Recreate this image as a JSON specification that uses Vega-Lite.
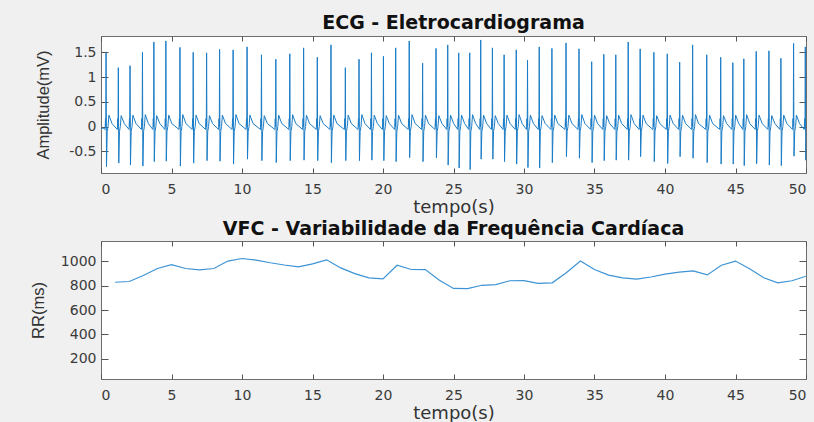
{
"$schema": "https://vega.github.io/schema/vega-lite/v6.json",
"autosize": {"type": "none"},
"padding": {"left": 101, "top": 36, "right": 8, "bottom": 386},
"background": "#F0F0F0",
"bounds": "flush",
"spacing": 68,
"datasets": {
"ecg": [
{"t":0,"v":-0.05},{"t":0.15,"v":-0.03},
{"t":0.29,"v":-0.06},{"t":0.32,"v":0.16},{"t":0.34,"v":0},{"t":0.36,"v":1.49},{"t":0.39,"v":-0.81},{"t":0.44,"v":-0.1},{"t":0.5,"v":0},{"t":0.56,"v":0.23},{"t":0.78,"v":0.06},
{"t":1.16,"v":-0.06},{"t":1.19,"v":0.16},{"t":1.21,"v":0},{"t":1.23,"v":1.19},{"t":1.26,"v":-0.74},{"t":1.31,"v":-0.1},{"t":1.37,"v":0},{"t":1.43,"v":0.22},{"t":1.65,"v":0.06},
{"t":1.99,"v":-0.06},{"t":2.02,"v":0.16},{"t":2.04,"v":0},{"t":2.06,"v":1.23},{"t":2.09,"v":-0.78},{"t":2.14,"v":-0.1},{"t":2.2,"v":0},{"t":2.26,"v":0.23},{"t":2.48,"v":0.06},
{"t":2.87,"v":-0.06},{"t":2.9,"v":0.16},{"t":2.92,"v":0},{"t":2.94,"v":1.5},{"t":2.97,"v":-0.8},{"t":3.02,"v":-0.1},{"t":3.08,"v":0},{"t":3.14,"v":0.24},{"t":3.36,"v":0.06},
{"t":3.68,"v":-0.06},{"t":3.71,"v":0.16},{"t":3.73,"v":0},{"t":3.75,"v":1.71},{"t":3.78,"v":-0.71},{"t":3.83,"v":-0.1},{"t":3.89,"v":0},{"t":3.95,"v":0.22},{"t":4.17,"v":0.06},
{"t":4.53,"v":-0.06},{"t":4.56,"v":0.16},{"t":4.58,"v":0},{"t":4.6,"v":1.73},{"t":4.63,"v":-0.7},{"t":4.68,"v":-0.1},{"t":4.74,"v":0},{"t":4.8,"v":0.23},{"t":5.02,"v":0.06},
{"t":5.53,"v":-0.06},{"t":5.56,"v":0.16},{"t":5.58,"v":0},{"t":5.6,"v":1.6},{"t":5.63,"v":-0.8},{"t":5.68,"v":-0.1},{"t":5.74,"v":0},{"t":5.8,"v":0.24},{"t":6.02,"v":0.06},
{"t":6.47,"v":-0.06},{"t":6.5,"v":0.16},{"t":6.52,"v":0},{"t":6.54,"v":1.5},{"t":6.57,"v":-0.74},{"t":6.62,"v":-0.1},{"t":6.68,"v":0},{"t":6.74,"v":0.23},{"t":6.96,"v":0.06},
{"t":7.42,"v":-0.06},{"t":7.45,"v":0.16},{"t":7.47,"v":0},{"t":7.49,"v":1.49},{"t":7.52,"v":-0.69},{"t":7.57,"v":-0.1},{"t":7.63,"v":0},{"t":7.69,"v":0.22},{"t":7.91,"v":0.06},
{"t":8.34,"v":-0.06},{"t":8.37,"v":0.16},{"t":8.39,"v":0},{"t":8.41,"v":1.56},{"t":8.44,"v":-0.7},{"t":8.49,"v":-0.1},{"t":8.55,"v":0},{"t":8.61,"v":0.23},{"t":8.83,"v":0.06},
{"t":9.3,"v":-0.06},{"t":9.33,"v":0.16},{"t":9.35,"v":0},{"t":9.37,"v":1.55},{"t":9.4,"v":-0.76},{"t":9.45,"v":-0.1},{"t":9.51,"v":0},{"t":9.57,"v":0.24},{"t":9.79,"v":0.06},
{"t":10.29,"v":-0.06},{"t":10.32,"v":0.16},{"t":10.34,"v":0},{"t":10.36,"v":1.61},{"t":10.39,"v":-0.66},{"t":10.44,"v":-0.1},{"t":10.5,"v":0},{"t":10.56,"v":0.23},{"t":10.78,"v":0.06},
{"t":11.31,"v":-0.06},{"t":11.34,"v":0.16},{"t":11.36,"v":0},{"t":11.38,"v":1.45},{"t":11.41,"v":-0.69},{"t":11.46,"v":-0.1},{"t":11.52,"v":0},{"t":11.58,"v":0.22},{"t":11.8,"v":0.06},
{"t":12.33,"v":-0.06},{"t":12.36,"v":0.16},{"t":12.38,"v":0},{"t":12.4,"v":1.36},{"t":12.43,"v":-0.73},{"t":12.48,"v":-0.1},{"t":12.54,"v":0},{"t":12.6,"v":0.23},{"t":12.82,"v":0.06},
{"t":13.32,"v":-0.06},{"t":13.35,"v":0.16},{"t":13.37,"v":0},{"t":13.39,"v":1.47},{"t":13.42,"v":-0.69},{"t":13.47,"v":-0.1},{"t":13.53,"v":0},{"t":13.59,"v":0.24},{"t":13.81,"v":0.06},
{"t":14.3,"v":-0.06},{"t":14.33,"v":0.16},{"t":14.35,"v":0},{"t":14.37,"v":1.59},{"t":14.4,"v":-0.68},{"t":14.45,"v":-0.1},{"t":14.51,"v":0},{"t":14.57,"v":0.23},{"t":14.79,"v":0.06},
{"t":15.27,"v":-0.06},{"t":15.3,"v":0.16},{"t":15.32,"v":0},{"t":15.34,"v":1.4},{"t":15.37,"v":-0.69},{"t":15.42,"v":-0.1},{"t":15.48,"v":0},{"t":15.54,"v":0.22},{"t":15.76,"v":0.06},
{"t":16.24,"v":-0.06},{"t":16.27,"v":0.16},{"t":16.29,"v":0},{"t":16.31,"v":1.65},{"t":16.34,"v":-0.73},{"t":16.39,"v":-0.1},{"t":16.45,"v":0},{"t":16.51,"v":0.23},{"t":16.73,"v":0.06},
{"t":17.26,"v":-0.06},{"t":17.29,"v":0.16},{"t":17.31,"v":0},{"t":17.33,"v":1.19},{"t":17.36,"v":-0.69},{"t":17.41,"v":-0.1},{"t":17.47,"v":0},{"t":17.53,"v":0.23},{"t":17.75,"v":0.06},
{"t":18.23,"v":-0.06},{"t":18.26,"v":0.16},{"t":18.28,"v":0},{"t":18.3,"v":1.36},{"t":18.33,"v":-0.69},{"t":18.38,"v":-0.1},{"t":18.44,"v":0},{"t":18.5,"v":0.24},{"t":18.72,"v":0.06},
{"t":19.11,"v":-0.06},{"t":19.14,"v":0.16},{"t":19.16,"v":0},{"t":19.18,"v":1.49},{"t":19.21,"v":-0.68},{"t":19.26,"v":-0.1},{"t":19.32,"v":0},{"t":19.38,"v":0.23},{"t":19.6,"v":0.06},
{"t":19.96,"v":-0.06},{"t":19.99,"v":0.16},{"t":20.01,"v":0},{"t":20.03,"v":1.42},{"t":20.06,"v":-0.69},{"t":20.11,"v":-0.1},{"t":20.17,"v":0},{"t":20.23,"v":0.22},{"t":20.45,"v":0.06},
{"t":20.83,"v":-0.06},{"t":20.86,"v":0.16},{"t":20.88,"v":0},{"t":20.9,"v":1.59},{"t":20.93,"v":-0.71},{"t":20.98,"v":-0.1},{"t":21.04,"v":0},{"t":21.1,"v":0.23},{"t":21.32,"v":0.06},
{"t":21.79,"v":-0.06},{"t":21.82,"v":0.16},{"t":21.84,"v":0},{"t":21.86,"v":1.73},{"t":21.89,"v":-0.63},{"t":21.94,"v":-0.1},{"t":22,"v":0},{"t":22.06,"v":0.24},{"t":22.28,"v":0.06},
{"t":22.74,"v":-0.06},{"t":22.77,"v":0.16},{"t":22.79,"v":0},{"t":22.81,"v":1.28},{"t":22.84,"v":-0.71},{"t":22.89,"v":-0.1},{"t":22.95,"v":0},{"t":23.01,"v":0.23},{"t":23.23,"v":0.06},
{"t":23.69,"v":-0.06},{"t":23.72,"v":0.16},{"t":23.74,"v":0},{"t":23.76,"v":1.58},{"t":23.79,"v":-0.63},{"t":23.84,"v":-0.1},{"t":23.9,"v":0},{"t":23.96,"v":0.22},{"t":24.18,"v":0.06},
{"t":24.52,"v":-0.06},{"t":24.55,"v":0.16},{"t":24.57,"v":0},{"t":24.59,"v":1.65},{"t":24.62,"v":-0.78},{"t":24.67,"v":-0.1},{"t":24.73,"v":0},{"t":24.79,"v":0.23},{"t":25.01,"v":0.06},
{"t":25.3,"v":-0.06},{"t":25.33,"v":0.16},{"t":25.35,"v":0},{"t":25.37,"v":1.49},{"t":25.4,"v":-0.84},{"t":25.45,"v":-0.1},{"t":25.51,"v":0},{"t":25.57,"v":0.23},{"t":25.79,"v":0.06},
{"t":26.08,"v":-0.06},{"t":26.11,"v":0.16},{"t":26.13,"v":0},{"t":26.15,"v":1.49},{"t":26.18,"v":-0.87},{"t":26.23,"v":-0.1},{"t":26.29,"v":0},{"t":26.35,"v":0.24},{"t":26.57,"v":0.06},
{"t":26.86,"v":-0.06},{"t":26.89,"v":0.16},{"t":26.91,"v":0},{"t":26.93,"v":1.75},{"t":26.96,"v":-0.66},{"t":27.01,"v":-0.1},{"t":27.07,"v":0},{"t":27.13,"v":0.23},{"t":27.35,"v":0.06},
{"t":27.69,"v":-0.06},{"t":27.72,"v":0.16},{"t":27.74,"v":0},{"t":27.76,"v":1.59},{"t":27.79,"v":-0.66},{"t":27.84,"v":-0.1},{"t":27.9,"v":0},{"t":27.96,"v":0.22},{"t":28.18,"v":0.06},
{"t":28.52,"v":-0.06},{"t":28.55,"v":0.16},{"t":28.57,"v":0},{"t":28.59,"v":1.45},{"t":28.62,"v":-0.71},{"t":28.67,"v":-0.1},{"t":28.73,"v":0},{"t":28.79,"v":0.23},{"t":29.01,"v":0.06},
{"t":29.38,"v":-0.06},{"t":29.41,"v":0.16},{"t":29.43,"v":0},{"t":29.45,"v":1.55},{"t":29.48,"v":-0.76},{"t":29.53,"v":-0.1},{"t":29.59,"v":0},{"t":29.65,"v":0.24},{"t":29.87,"v":0.06},
{"t":30.18,"v":-0.06},{"t":30.21,"v":0.16},{"t":30.23,"v":0},{"t":30.25,"v":1.34},{"t":30.28,"v":-0.83},{"t":30.33,"v":-0.1},{"t":30.39,"v":0},{"t":30.45,"v":0.23},{"t":30.67,"v":0.06},
{"t":31.01,"v":-0.06},{"t":31.04,"v":0.16},{"t":31.06,"v":0},{"t":31.08,"v":1.61},{"t":31.11,"v":-0.84},{"t":31.16,"v":-0.1},{"t":31.22,"v":0},{"t":31.28,"v":0.22},{"t":31.5,"v":0.06},
{"t":31.91,"v":-0.06},{"t":31.94,"v":0.16},{"t":31.96,"v":0},{"t":31.98,"v":1.58},{"t":32.01,"v":-0.73},{"t":32.06,"v":-0.1},{"t":32.12,"v":0},{"t":32.18,"v":0.23},{"t":32.4,"v":0.06},
{"t":32.91,"v":-0.06},{"t":32.94,"v":0.16},{"t":32.96,"v":0},{"t":32.98,"v":1.69},{"t":33.01,"v":-0.61},{"t":33.06,"v":-0.1},{"t":33.12,"v":0},{"t":33.18,"v":0.23},{"t":33.4,"v":0.06},
{"t":33.83,"v":-0.06},{"t":33.86,"v":0.16},{"t":33.88,"v":0},{"t":33.9,"v":1.57},{"t":33.93,"v":-0.64},{"t":33.98,"v":-0.1},{"t":34.04,"v":0},{"t":34.1,"v":0.24},{"t":34.32,"v":0.06},
{"t":34.73,"v":-0.06},{"t":34.76,"v":0.16},{"t":34.78,"v":0},{"t":34.8,"v":1.31},{"t":34.83,"v":-0.73},{"t":34.88,"v":-0.1},{"t":34.94,"v":0},{"t":35,"v":0.23},{"t":35.22,"v":0.06},
{"t":35.59,"v":-0.06},{"t":35.62,"v":0.16},{"t":35.64,"v":0},{"t":35.66,"v":1.46},{"t":35.69,"v":-0.69},{"t":35.74,"v":-0.1},{"t":35.8,"v":0},{"t":35.86,"v":0.22},{"t":36.08,"v":0.06},
{"t":36.44,"v":-0.06},{"t":36.47,"v":0.16},{"t":36.49,"v":0},{"t":36.51,"v":1.45},{"t":36.54,"v":-0.68},{"t":36.59,"v":-0.1},{"t":36.65,"v":0},{"t":36.71,"v":0.23},{"t":36.93,"v":0.06},
{"t":37.32,"v":-0.06},{"t":37.35,"v":0.16},{"t":37.37,"v":0},{"t":37.39,"v":1.71},{"t":37.42,"v":-0.68},{"t":37.47,"v":-0.1},{"t":37.53,"v":0},{"t":37.59,"v":0.24},{"t":37.81,"v":0.06},
{"t":38.17,"v":-0.06},{"t":38.2,"v":0.16},{"t":38.22,"v":0},{"t":38.24,"v":1.57},{"t":38.27,"v":-0.61},{"t":38.32,"v":-0.1},{"t":38.38,"v":0},{"t":38.44,"v":0.23},{"t":38.66,"v":0.06},
{"t":39.14,"v":-0.06},{"t":39.17,"v":0.16},{"t":39.19,"v":0},{"t":39.21,"v":1.5},{"t":39.24,"v":-0.71},{"t":39.29,"v":-0.1},{"t":39.35,"v":0},{"t":39.41,"v":0.22},{"t":39.63,"v":0.06},
{"t":40.09,"v":-0.06},{"t":40.12,"v":0.16},{"t":40.14,"v":0},{"t":40.16,"v":1.47},{"t":40.19,"v":-0.75},{"t":40.24,"v":-0.1},{"t":40.3,"v":0},{"t":40.36,"v":0.23},{"t":40.58,"v":0.06},
{"t":40.97,"v":-0.06},{"t":41,"v":0.16},{"t":41.02,"v":0},{"t":41.04,"v":1.3},{"t":41.07,"v":-0.61},{"t":41.12,"v":-0.1},{"t":41.18,"v":0},{"t":41.24,"v":0.23},{"t":41.46,"v":0.06},
{"t":41.89,"v":-0.06},{"t":41.92,"v":0.16},{"t":41.94,"v":0},{"t":41.96,"v":1.65},{"t":41.99,"v":-0.64},{"t":42.04,"v":-0.1},{"t":42.1,"v":0},{"t":42.16,"v":0.24},{"t":42.38,"v":0.06},
{"t":42.89,"v":-0.06},{"t":42.92,"v":0.16},{"t":42.94,"v":0},{"t":42.96,"v":1.45},{"t":42.99,"v":-0.73},{"t":43.04,"v":-0.1},{"t":43.1,"v":0},{"t":43.16,"v":0.23},{"t":43.38,"v":0.06},
{"t":43.88,"v":-0.06},{"t":43.91,"v":0.16},{"t":43.93,"v":0},{"t":43.95,"v":1.4},{"t":43.98,"v":-0.76},{"t":44.03,"v":-0.1},{"t":44.09,"v":0},{"t":44.15,"v":0.22},{"t":44.37,"v":0.06},
{"t":44.74,"v":-0.06},{"t":44.77,"v":0.16},{"t":44.79,"v":0},{"t":44.81,"v":1.29},{"t":44.84,"v":-0.76},{"t":44.89,"v":-0.1},{"t":44.95,"v":0},{"t":45.01,"v":0.23},{"t":45.23,"v":0.06},
{"t":45.52,"v":-0.06},{"t":45.55,"v":0.16},{"t":45.57,"v":0},{"t":45.59,"v":1.37},{"t":45.62,"v":-0.79},{"t":45.67,"v":-0.1},{"t":45.73,"v":0},{"t":45.79,"v":0.24},{"t":46.01,"v":0.06},
{"t":46.4,"v":-0.06},{"t":46.43,"v":0.16},{"t":46.45,"v":0},{"t":46.47,"v":1.52},{"t":46.5,"v":-0.75},{"t":46.55,"v":-0.1},{"t":46.61,"v":0},{"t":46.67,"v":0.23},{"t":46.89,"v":0.06},
{"t":47.3,"v":-0.06},{"t":47.33,"v":0.16},{"t":47.35,"v":0},{"t":47.37,"v":1.53},{"t":47.4,"v":-0.78},{"t":47.45,"v":-0.1},{"t":47.51,"v":0},{"t":47.57,"v":0.22},{"t":47.79,"v":0.06},
{"t":48.15,"v":-0.06},{"t":48.18,"v":0.16},{"t":48.2,"v":0},{"t":48.22,"v":1.38},{"t":48.25,"v":-0.79},{"t":48.3,"v":-0.1},{"t":48.36,"v":0},{"t":48.42,"v":0.23},{"t":48.64,"v":0.06},
{"t":49.05,"v":-0.06},{"t":49.08,"v":0.16},{"t":49.1,"v":0},{"t":49.12,"v":1.68},{"t":49.15,"v":-0.6},{"t":49.2,"v":-0.1},{"t":49.26,"v":0},{"t":49.32,"v":0.23},{"t":49.54,"v":0.06},
{"t":49.88,"v":-0.06},{"t":49.91,"v":0.16},{"t":49.93,"v":0},{"t":49.95,"v":1.61},{"t":49.98,"v":-0.68},{"t":50,"v":-0.3}
],
"rr": [
{"n":1,"rr":827},{"n":2,"rr":833},{"n":3,"rr":882},{"n":4,"rr":939},{"n":5,"rr":971},{"n":6,"rr":939},{"n":7,"rr":928},{"n":8,"rr":939},{"n":9,"rr":1000},{"n":10,"rr":1021},
{"n":11,"rr":1007},{"n":12,"rr":986},{"n":13,"rr":968},{"n":14,"rr":953},{"n":15,"rr":977},{"n":16,"rr":1010},{"n":17,"rr":944},{"n":18,"rr":897},{"n":19,"rr":862},{"n":20,"rr":854},
{"n":21,"rr":966},{"n":22,"rr":931},{"n":23,"rr":930},{"n":24,"rr":843},{"n":25,"rr":776},{"n":26,"rr":775},{"n":27,"rr":802},{"n":28,"rr":808},{"n":29,"rr":839},{"n":30,"rr":840},
{"n":31,"rr":817},{"n":32,"rr":822},{"n":33,"rr":905},{"n":34,"rr":1000},{"n":35,"rr":931},{"n":36,"rr":885},{"n":37,"rr":863},{"n":38,"rr":852},{"n":39,"rr":870},{"n":40,"rr":893},
{"n":41,"rr":910},{"n":42,"rr":920},{"n":43,"rr":887},{"n":44,"rr":966},{"n":45,"rr":1000},{"n":46,"rr":937},{"n":47,"rr":863},{"n":48,"rr":822},{"n":49,"rr":839},{"n":50,"rr":876}
]
},
"config": {
"view": {"fill": "white", "stroke": "#6e6e6e", "strokeWidth": 1},
"axis": {"domain": false, "grid": false, "labelFont": "DejaVu Sans", "labelFontSize": 14, "labelColor": "#3a3a3a", "tickColor": "#555555", "titleFont": "Liberation Sans", "titleFontWeight": "normal", "titleColor": "#333333"},
"title": {"font": "DejaVu Sans", "fontSize": 19, "fontWeight": "bold", "color": "#111111", "anchor": "middle", "baseline": "alphabetic", "offset": 3}
},
"vconcat": [
{
"width": 705, "height": 137,
"title": "ECG - Eletrocardiograma",
"data": {"name": "ecg"},
"layer": [
{"mark": {"type": "line", "color": "#1a7cc6", "strokeWidth": 1, "clip": true},
"encoding": {
"x": {"field": "t", "type": "quantitative", "scale": {"domain": [0, 50], "nice": false, "zero": false},
"axis": {"orient": "bottom", "values": [0,5,10,15,20,25,30,35,40,45,50], "tickSize": -5, "labelPadding": 14, "title": "tempo(s)", "titleFont": "DejaVu Sans", "titleFontSize": 18, "titlePadding": 2}},
"y": {"field": "v", "type": "quantitative", "scale": {"domain": [-0.94, 1.83], "nice": false, "zero": false},
"axis": {"orient": "left", "values": [-0.5,0,0.5,1,1.5], "tickSize": -7, "labelPadding": 12, "title": "Amplitude(mV)", "titleFontSize": 16.5, "titlePadding": 17, "labelExpr": "datum.value < 0 ? '-' + format(-datum.value, '~g') : format(datum.value, '~g')"}}
}},
{"mark": {"type": "line", "opacity": 0},
"encoding": {
"x": {"field": "t", "type": "quantitative", "axis": {"orient": "top", "values": [0,5,10,15,20,25,30,35,40,45,50], "tickSize": -5, "labels": false, "title": null}},
"y": {"field": "v", "type": "quantitative", "axis": {"orient": "right", "values": [-0.5,0,0.5,1,1.5], "tickSize": -7, "labels": false, "title": null}}
}}
],
"resolve": {"axis": {"x": "independent", "y": "independent"}}
},
{
"width": 705, "height": 138,
"title": {"text": "VFC - Variabilidade da Frequência Cardíaca", "offset": 2},
"data": {"name": "rr"},
"layer": [
{"mark": {"type": "line", "color": "#3d93d4", "strokeWidth": 1.2, "clip": true},
"encoding": {
"x": {"field": "n", "type": "quantitative", "scale": {"domain": [0, 50], "nice": false, "zero": false},
"axis": {"orient": "bottom", "values": [0,5,10,15,20,25,30,35,40,45,50], "tickSize": -5, "labelPadding": 14, "title": "tempo(s)", "titleFont": "DejaVu Sans", "titleFontSize": 18, "titlePadding": 2.5}},
"y": {"field": "rr", "type": "quantitative", "scale": {"domain": [36, 1164], "nice": false, "zero": false},
"axis": {"orient": "left", "values": [200,400,600,800,1000], "tickSize": -7, "labelPadding": 12, "format": "d", "title": "RR(ms)", "titleFontSize": 16.5, "titlePadding": 14}}
}},
{"mark": {"type": "line", "opacity": 0},
"encoding": {
"x": {"field": "n", "type": "quantitative", "axis": {"orient": "top", "values": [0,5,10,15,20,25,30,35,40,45,50], "tickSize": -5, "labels": false, "title": null}},
"y": {"field": "rr", "type": "quantitative", "axis": {"orient": "right", "values": [200,400,600,800,1000], "tickSize": -7, "labels": false, "title": null}}
}}
],
"resolve": {"axis": {"x": "independent", "y": "independent"}}
}
]
}
